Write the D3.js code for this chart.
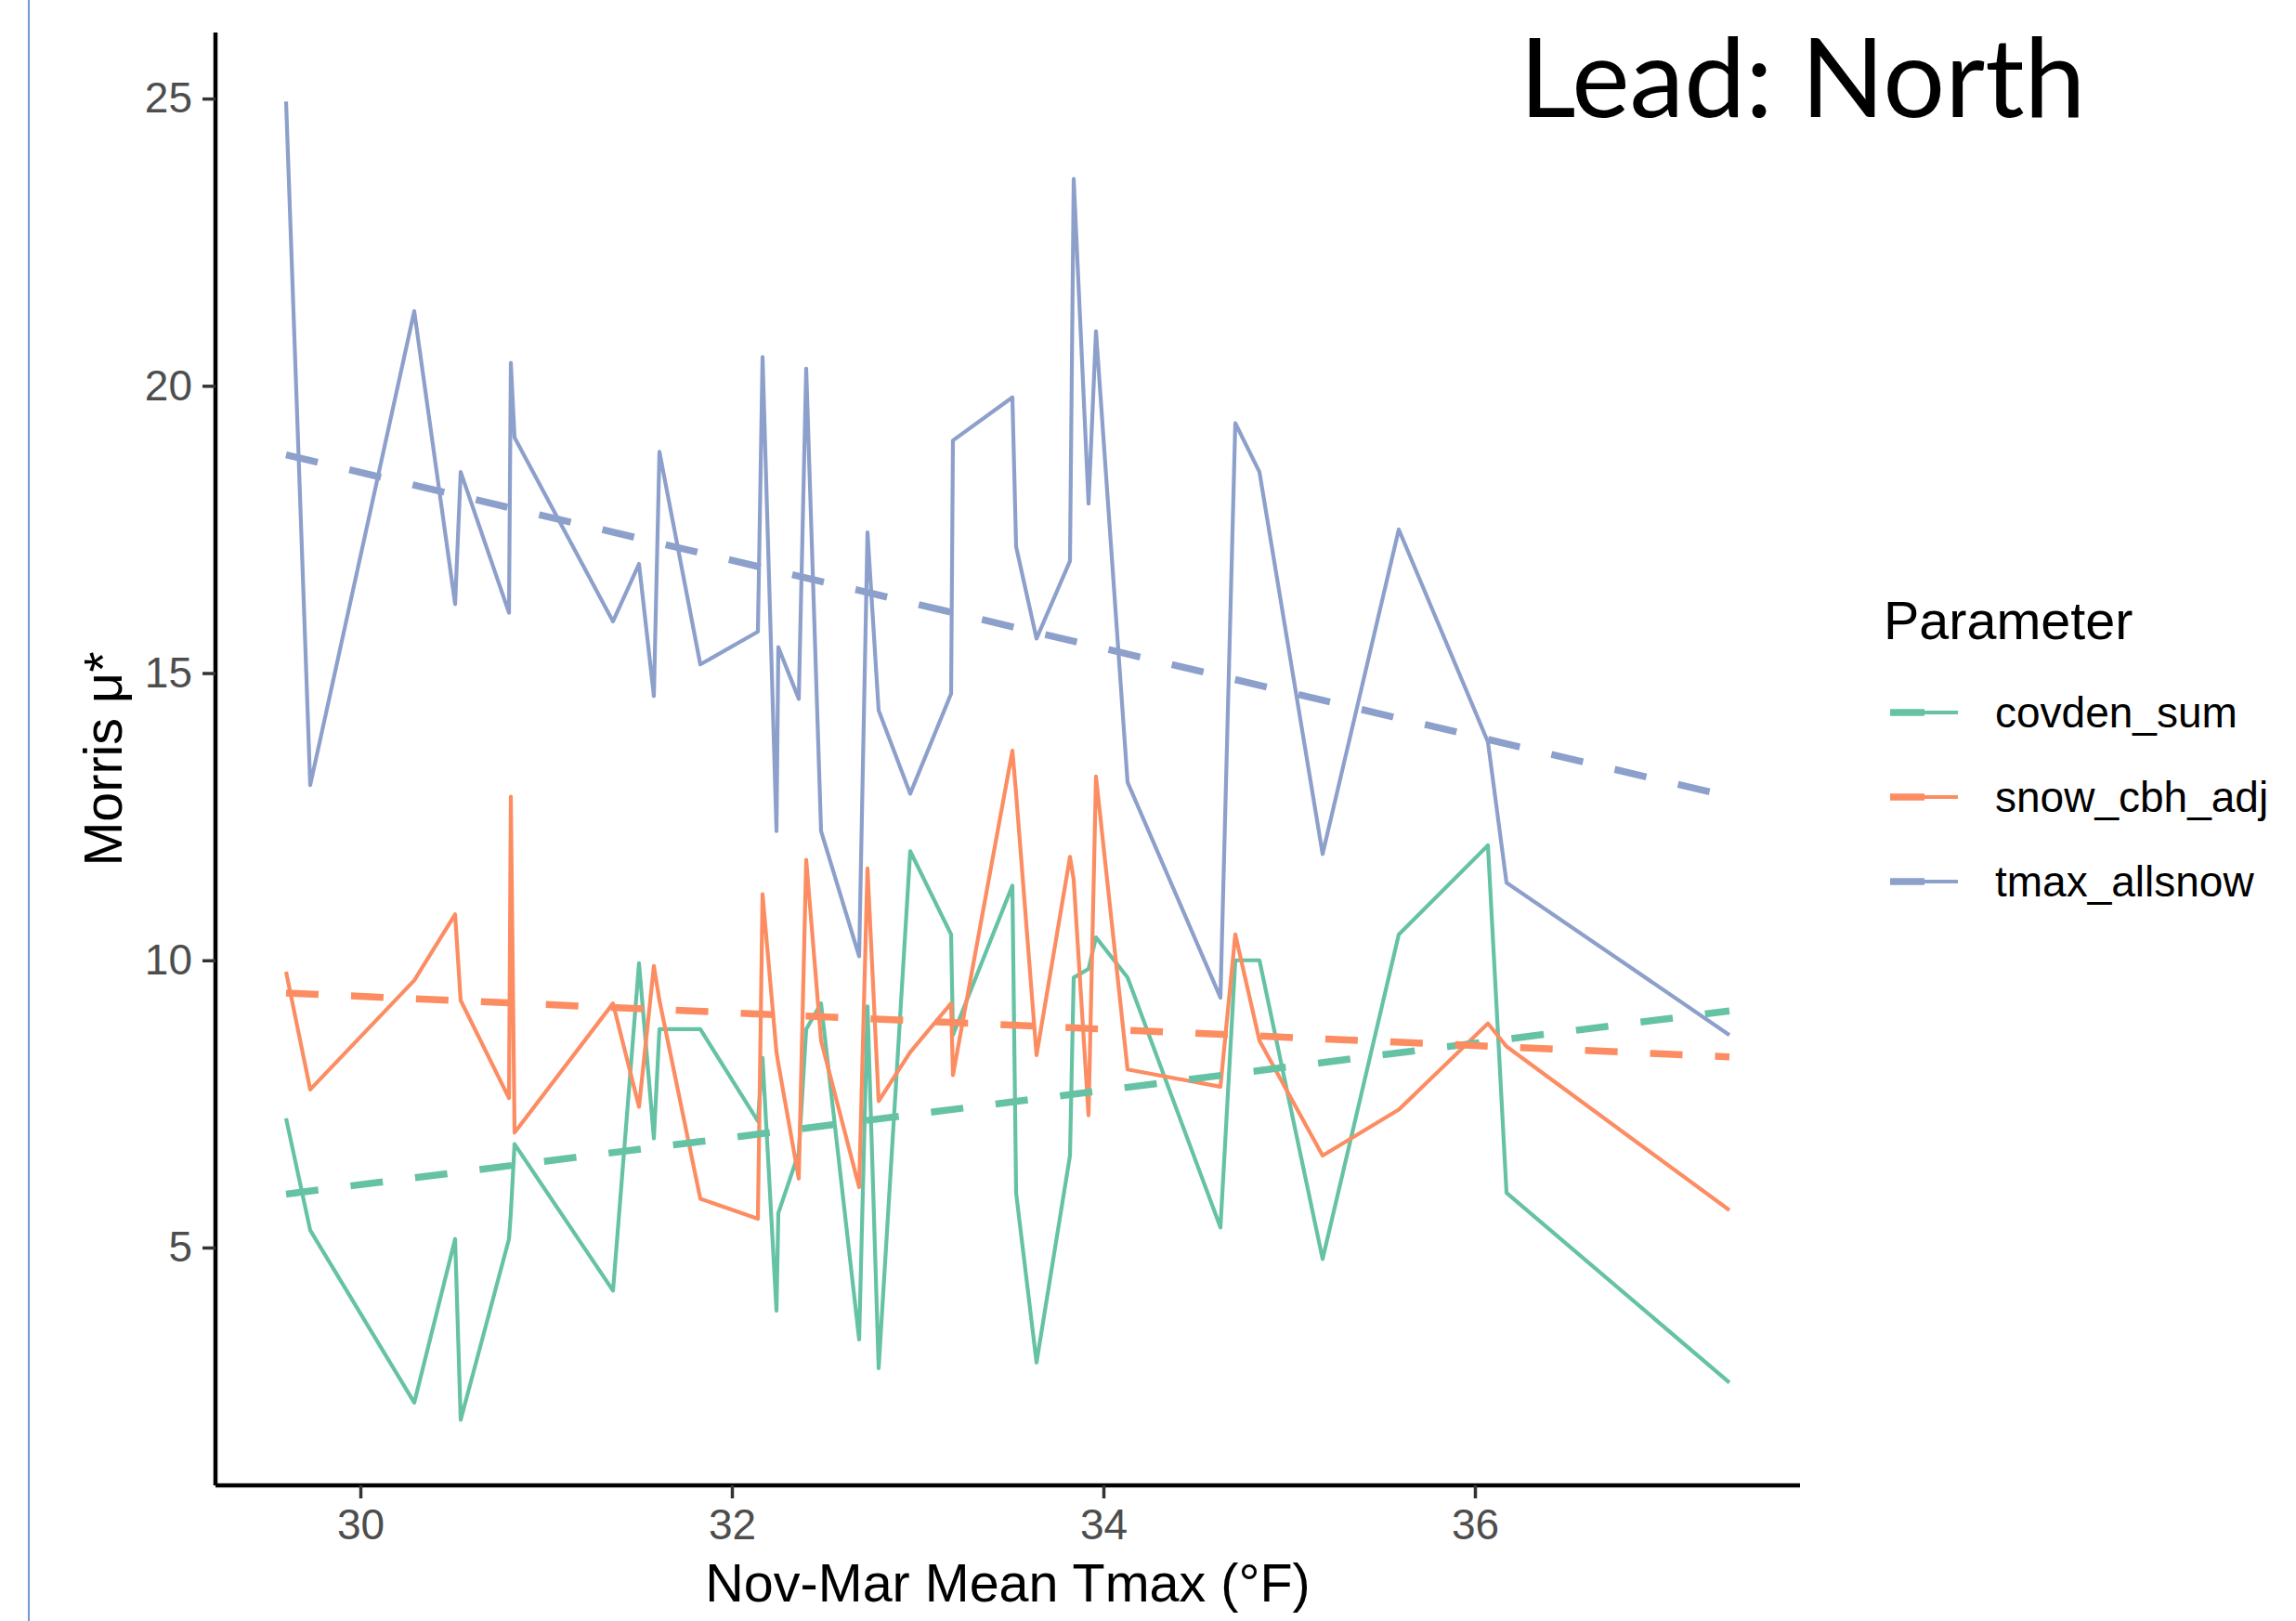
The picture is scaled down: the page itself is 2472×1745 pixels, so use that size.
<!DOCTYPE html>
<html>
<head>
<meta charset="utf-8">
<script src="https://cdn.jsdelivr.net/npm/d3@7"></script>
<style>
  html, body { margin: 0; padding: 0; background: #fff; }
  svg { display: block; }
</style>
</head>
<body>
<svg id="chart"></svg>
<script>
// Morris mu* per parameter against winter mean Tmax, one vertex per year.
// Values; all three series share the x positions.
const TMAX = [29.60, 29.73, 30.29, 30.51, 30.54, 30.80, 30.81, 30.83, 31.36, 31.50,
  31.58, 31.61, 31.83, 32.14, 32.165, 32.24, 32.25, 32.36, 32.40, 32.48,
  32.685, 32.73, 32.79, 32.96, 33.18, 33.19, 33.51, 33.53, 33.64, 33.82,
  33.84, 33.92, 33.96, 34.13, 34.63, 34.71, 34.84, 35.18, 35.59, 36.07,
  36.17, 37.37];
const COVDEN_SUM = [7.25, 5.3, 2.3, 5.15, 2.0, 5.15, 5.6, 6.8, 4.25, 9.95,
  6.9, 8.8, 8.8, 7.2, 8.3, 3.9, 5.6, 6.65, 8.8, 9.25,
  3.4, 9.2, 2.9, 11.9, 10.45, 8.7, 11.3, 5.95, 3.0, 6.6,
  9.7, 9.85, 10.4, 9.7, 5.35, 10.0, 10.0, 4.8, 10.45, 12.0,
  5.95, 2.65];
const SNOW_CBH_ADJ = [9.8, 7.75, 9.65, 10.8, 9.3, 7.6, 12.85, 7.0, 9.25, 7.45,
  9.9, 9.3, 5.85, 5.5, 11.15, 8.4, 8.2, 6.2, 11.75, 8.6,
  6.05, 11.6, 7.55, 8.4, 9.25, 8.0, 13.65, 12.9, 8.35, 11.8,
  11.4, 7.3, 13.2, 8.1, 7.8, 10.45, 8.6, 6.6, 7.4, 8.9,
  8.5, 5.65];
const TMAX_ALLSNOW = [24.95, 13.05, 21.3, 16.2, 18.5, 16.05, 20.4, 19.1, 15.9, 16.9,
  14.6, 18.85, 15.15, 15.72, 20.5, 12.25, 15.45, 14.55, 20.3, 12.25,
  10.07, 17.45, 14.35, 12.9, 14.64, 19.05, 19.8, 17.2, 15.6, 16.95,
  23.6, 17.95, 20.95, 13.1, 9.35, 19.35, 18.5, 11.85, 17.5, 13.8,
  11.35, 8.7];

// linear fit ends (dashed), as drawn in the reference
const TREND_X = [29.60, 37.37];
const TREND_COVDEN = [5.93, 9.12];
const TREND_SNOW = [9.43, 8.32];
const TREND_TMAX = [18.8, 12.85];

const PARAMS = ['covden_sum', 'snow_cbh_adj', 'tmax_allsnow'];
const COLORS = ['#66c2a5', '#fc8d62', '#8da0cb'];
const X_TICKS = [30, 32, 34, 36];
const Y_TICKS = [5, 10, 15, 20, 25];

const W = 2472;
const H = 1745;
const PANEL = { left: 232, right: 1938, top: 35, bottom: 1599 };
const SANS = '"Liberation Sans", Arial, Helvetica, sans-serif';
const LINE_W = 4.2;

const svg = d3.select('#chart').attr('width', W).attr('height', H);
svg.append('rect').attr('width', W).attr('height', H).attr('fill', '#fff');

// slide edge line on the far left
svg.append('line')
  .attr('x1', 31).attr('x2', 31).attr('y1', 0).attr('y2', H)
  .attr('stroke', '#6f9ad8').attr('stroke-width', 2);

const x = d3.scaleLinear().domain([29.22, 37.75]).range([PANEL.left, PANEL.right]);
const y = d3.scaleLinear().domain([0.86, 26.15]).range([PANEL.bottom, PANEL.top]);

const seriesValues = [COVDEN_SUM, SNOW_CBH_ADJ, TMAX_ALLSNOW];
const trendValues = [TREND_COVDEN, TREND_SNOW, TREND_TMAX];

const line = d3.line().x((d) => x(d[0])).y((d) => y(d[1]));

const plot = svg.append('g');

plot.selectAll('path.series')
  .data(seriesValues)
  .enter()
  .append('path')
  .attr('class', 'series')
  .attr('d', (vals) => line(TMAX.map((t, i) => [t, vals[i]])))
  .attr('fill', 'none')
  .attr('stroke', (d, i) => COLORS[i])
  .attr('stroke-width', LINE_W)
  .attr('stroke-linejoin', 'round');

plot.selectAll('path.trend')
  .data(trendValues)
  .enter()
  .append('path')
  .attr('class', 'trend')
  .attr('d', (vals) => line(TREND_X.map((t, i) => [t, vals[i]])))
  .attr('fill', 'none')
  .attr('stroke', (d, i) => COLORS[i])
  .attr('stroke-width', 7.5)
  .attr('stroke-dasharray', '35,35');

// axes, theme_classic look
const axisFont = 46;
const xAxis = svg.append('g')
  .attr('transform', `translate(0,${PANEL.bottom})`)
  .call(d3.axisBottom(x).tickValues(X_TICKS).tickSize(14).tickPadding(11).tickFormat(d3.format('d')));
const yAxis = svg.append('g')
  .attr('transform', `translate(${PANEL.left},0)`)
  .call(d3.axisLeft(y).tickValues(Y_TICKS).tickSize(14).tickPadding(11).tickFormat(d3.format('d')));

[xAxis, yAxis].forEach((g) => {
  g.select('.domain').attr('stroke', '#000').attr('stroke-width', 4.5);
  g.selectAll('.tick line').attr('stroke', '#333').attr('stroke-width', 3.5);
  g.selectAll('.tick text')
    .attr('fill', '#4d4d4d')
    .style('font-family', SANS)
    .style('font-size', `${axisFont}px`);
});
// plain axis lines over the panel extent
xAxis.select('.domain').attr('d', `M${PANEL.left},0H${PANEL.right}`);
yAxis.select('.domain').attr('d', `M0,${PANEL.top}V${PANEL.bottom}`);

svg.append('text')
  .attr('x', (PANEL.left + PANEL.right) / 2)
  .attr('y', 1724)
  .attr('text-anchor', 'middle')
  .style('font-family', SANS)
  .style('font-size', '57.5px')
  .text('Nov-Mar Mean Tmax (°F)');

svg.append('text')
  .attr('transform', `translate(131,${(PANEL.top + PANEL.bottom) / 2}) rotate(-90)`)
  .attr('text-anchor', 'middle')
  .style('font-family', SANS)
  .style('font-size', '57.5px')
  .text('Morris μ*');

// legend
const legend = svg.append('g').attr('transform', 'translate(2028,0)');
legend.append('text')
  .attr('x', 0)
  .attr('y', 688)
  .style('font-family', SANS)
  .style('font-size', '57.5px')
  .text('Parameter');

const keyRows = legend.selectAll('g.key')
  .data(PARAMS)
  .enter()
  .append('g')
  .attr('class', 'key')
  .attr('transform', (d, i) => `translate(0,${767 + i * 91})`);

keyRows.append('line')
  .attr('x1', 7).attr('x2', 80).attr('y1', 0).attr('y2', 0)
  .attr('stroke', (d, i) => COLORS[i])
  .attr('stroke-width', LINE_W);

keyRows.append('line')
  .attr('x1', 7).attr('x2', 80).attr('y1', 0).attr('y2', 0)
  .attr('stroke', (d, i) => COLORS[i])
  .attr('stroke-width', 7.5)
  .attr('stroke-dasharray', '37,40');

keyRows.append('text')
  .attr('x', 120)
  .attr('y', 0)
  .attr('dy', '0.35em')
  .style('font-family', SANS)
  .style('font-size', `${axisFont}px`)
  .text((d) => d);

// slide title
svg.append('text')
  .attr('x', 1636)
  .attr('y', 126)
  .style('font-family', 'Lato, "Open Sans", sans-serif')
  .style('font-size', '118px')
  .text('Lead: North');
</script>
</body>
</html>
